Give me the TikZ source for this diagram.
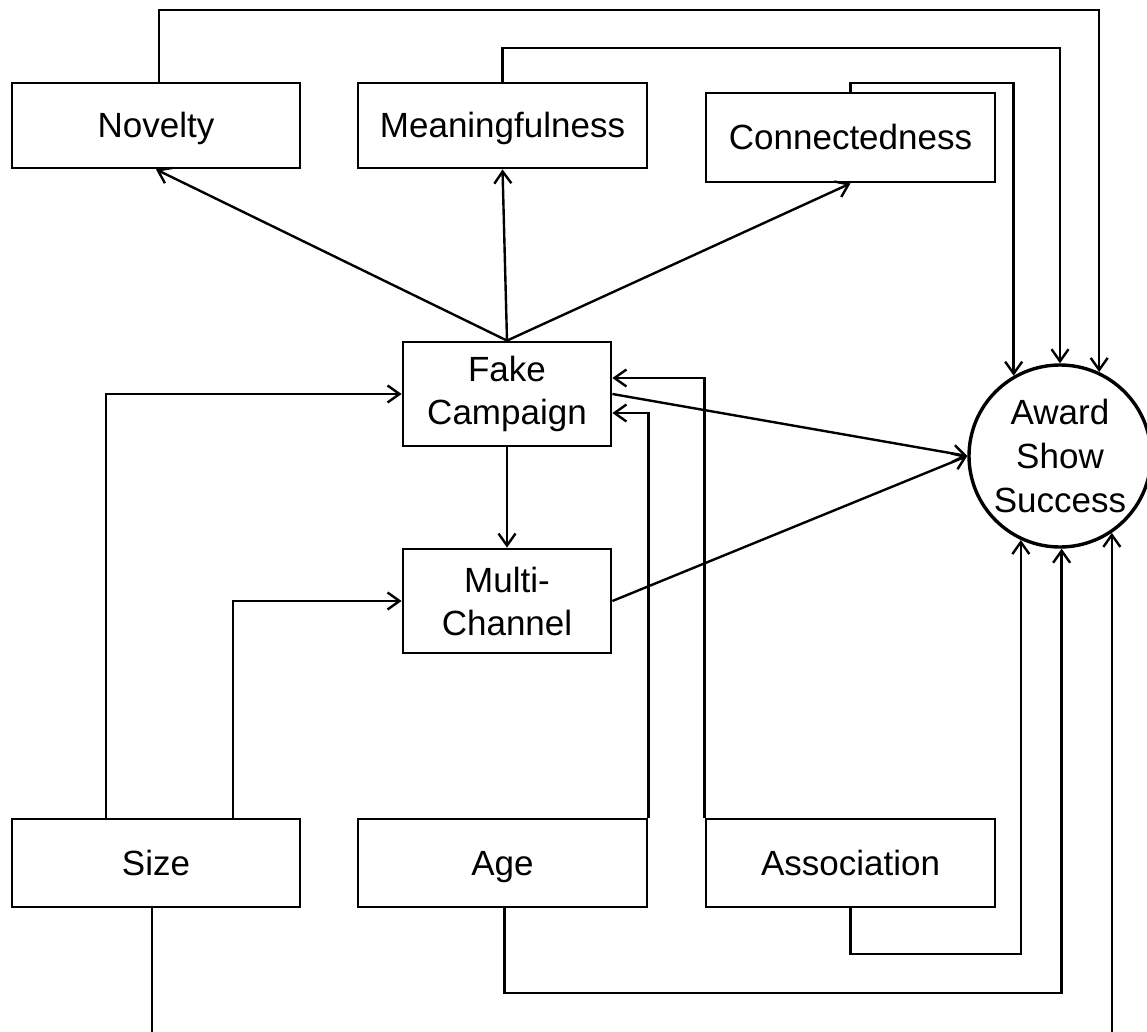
\documentclass[tikz,border=0pt]{standalone}
\usepackage{fontspec}
\setmainfont{Liberation Sans}
\usetikzlibrary{arrows.meta}
\begin{document}
\begin{tikzpicture}[x=1pt,y=-1pt,
  box/.style={draw,line width=2.8pt,rectangle,inner sep=0pt,align=center,
    font=\fontsize{35pt}{43pt}\selectfont},
  one/.style={text height=25pt,text depth=0pt},
  goal/.style={draw,line width=3.4pt,circle,inner sep=0pt,minimum size=182pt,align=center,
    font=\fontsize{35pt}{44pt}\selectfont},
  arr/.style={line width=2.4pt,-{Straight Barb[length=12pt,width=17pt]}}]
\useasboundingbox (0,0) rectangle (1147,1032);
\fill[white] (0,0) rectangle (1147,1032);
\clip (0,0) rectangle (1147,1032);
% nodes
\node[box,one,minimum width=288pt,minimum height=85pt] (novelty) at (156,125.5) {Novelty};
\node[box,one,minimum width=289pt,minimum height=85pt] (meaning) at (502.5,125.5) {Meaningfulness};
\node[box,one,minimum width=289pt,minimum height=89pt] (connect) at (850.5,137.5) {Connectedness};
\node[box,minimum width=208pt,minimum height=104pt] (fake) at (507,394) {Fake\\Campaign};
\node[box,minimum width=208pt,minimum height=104pt] (multi) at (507,601) {Multi-\\Channel};
\node[box,one,minimum width=288pt,minimum height=88pt] (size) at (156,863) {Size};
\node[box,one,minimum width=289pt,minimum height=88pt] (age) at (502.5,863) {Age};
\node[box,one,minimum width=289pt,minimum height=88pt] (assoc) at (850.5,863) {Association};
\node[goal] (award) at (1060,456) {Award\\Show\\Success};
% connectors
\draw[arr] (fake.north) -- (novelty.south);
\draw[arr] (fake.north) -- (meaning.south);
\draw[arr] (fake.north) -- (connect.south);
\draw[arr] (fake.south) -- (multi.north);
\draw[arr] (fake.east) -- (award.west);
\draw[arr] (multi.east) -- (award.west);
\draw[arr] ([xshift=-50pt]size.north) |- (fake.west);
\draw[arr] ([xshift=77pt]size.north) |- (multi.west);
\draw[arr] (age.north east) |- ([yshift=-19pt]fake.east);
\draw[arr] (assoc.north west) |- ([yshift=16pt]fake.east);
\draw[arr] ([xshift=3pt]novelty.north) -- ([xshift=3pt]novelty.north |- 0,10) -| (award.65.7);
\draw[arr] (meaning.north) -- (meaning.north |- 0,48) -| (award.90);
\draw[arr] (connect.north) -- (connect.north |- 0,83) -| (award.120);
\draw[arr] (assoc.south) -- (assoc.south |- 0,954) -| (award.-115);
\draw[arr] ([xshift=2pt]age.south) -- ([xshift=2pt]age.south |- 0,993) -| (award.-89);
\draw[arr] ([xshift=-4pt]size.south) -- ([xshift=-4pt]size.south |- 0,1070) -| (award.-56.3);
\end{tikzpicture}
\end{document}
